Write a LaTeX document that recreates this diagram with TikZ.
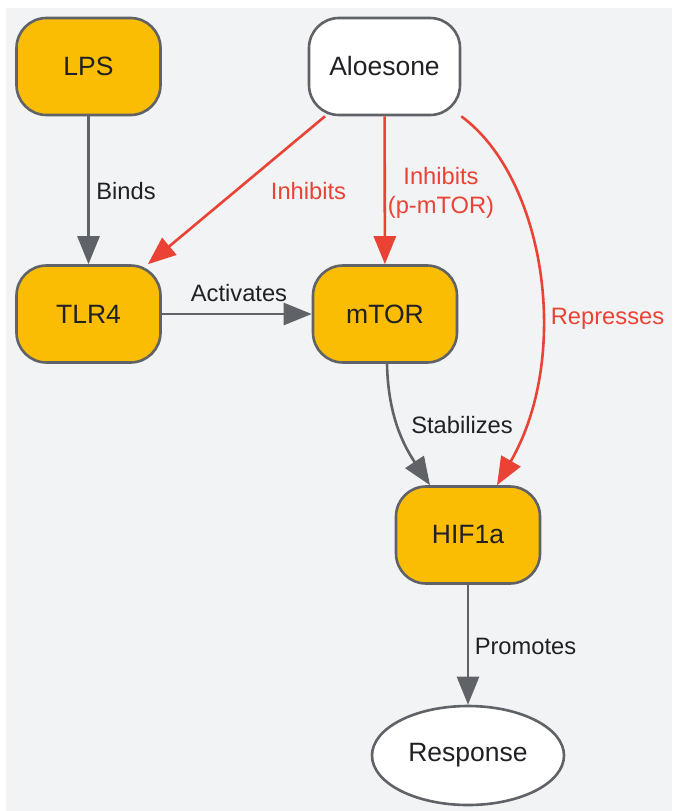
\documentclass[tikz,border=0pt]{standalone}
\usepackage{fontspec}
\setmainfont{Liberation Sans}
\usetikzlibrary{arrows.meta,shapes.geometric}
\definecolor{bgc}{HTML}{F1F3F4}
\definecolor{goldc}{HTML}{FBBC04}
\definecolor{edgegray}{HTML}{5F6368}
\definecolor{redc}{HTML}{EA4335}
\definecolor{txtc}{HTML}{202124}
\begin{document}
\begin{tikzpicture}[x=1pt,y=-1pt,
  box/.style={draw=edgegray, line width=2.6pt, rounded corners=30pt, minimum width=144pt, minimum height=97pt, inner sep=0pt, text=txtc, font=\fontsize{26.5}{31}\selectfont},
  gbox/.style={box, fill=goldc},
  wbox/.style={box, fill=white},
  oval/.style={ellipse, draw=edgegray, line width=2.6pt, fill=white, minimum width=192pt, minimum height=99pt, inner sep=0pt, text=txtc, font=\fontsize{26.5}{31}\selectfont},
  garrow/.style={draw=edgegray, line width=2.6pt, -{Triangle[length=28pt,width=22pt]}},
  rarrow/.style={draw=redc, line width=2.6pt, -{Triangle[length=28pt,width=22pt]}},
  glbl/.style={text=txtc, font=\fontsize{23.7}{28.5}\selectfont, inner sep=0pt, anchor=base},
  rlbl/.style={glbl, text=redc}
]
\fill[white] (0,0) rectangle (672,811);
\fill[bgc] (6,7.5) rectangle (672,811);
\useasboundingbox (0,0) rectangle (672,811);

\node[gbox] (lps) at (88.5,66.5) {LPS};
\node[wbox, minimum width=151pt] (aloe) at (384.5,66.5) {Aloesone};
\node[gbox] (tlr4) at (88.5,314) {TLR4};
\node[gbox] (mtor) at (385,314) {mTOR};
\node[gbox] (hif) at (468,535) {HIF1a};
\node[oval] (resp) at (468,755.5) {Response};

\draw[garrow] (lps) -- (tlr4);
\draw[garrow] (tlr4) -- (mtor);
\draw[rarrow] (aloe) -- (tlr4);
\draw[rarrow] (aloe) -- (mtor);
\draw[rarrow] (aloe.south east) .. controls (545,178) and (572,355) .. ([xshift=29pt]hif.north);
\draw[garrow] ([xshift=2pt]mtor.south) .. controls (388,410) and (400,440) .. ([xshift=-38pt]hif.north);
\draw[garrow] (hif) -- (resp);

\node[glbl] (lbinds) at (126,199) {Binds};
\node[glbl] (lact) at (239,301.5) {Activates};
\node[rlbl] (linh1) at (308.5,199) {Inhibits};
\node[rlbl, anchor=center, align=center] (linh2) at (441,193) {Inhibits\\(p-mTOR)};
\node[rlbl] (lrep) at (607.5,324) {Represses};
\node[glbl] (lstab) at (462,433) {Stabilizes};
\node[glbl] (lprom) at (525.5,654) {Promotes};
\end{tikzpicture}
\end{document}
